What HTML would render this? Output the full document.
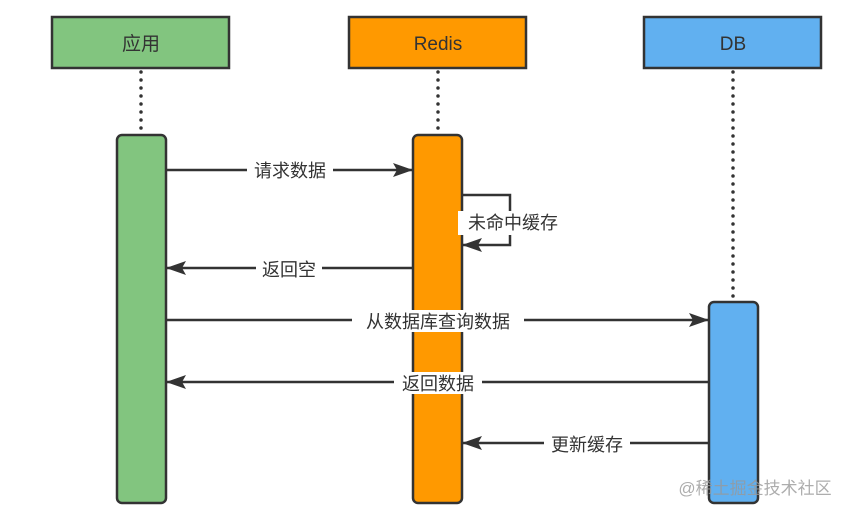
<!DOCTYPE html>
<html><head><meta charset="utf-8"><style>
body{margin:0;background:#fff;}
svg{display:block;font-family:"Liberation Sans","Noto Sans CJK SC",sans-serif;}
</style></head><body>
<svg width="852" height="513" viewBox="0 0 852 513">
<defs>
<marker id="a" markerWidth="20" markerHeight="14" refX="19" refY="7" orient="auto" markerUnits="userSpaceOnUse">
<path d="M0,0 L20,7 L0,14 L4,7 Z" fill="#333"/></marker>
</defs>
<g stroke="#333" stroke-width="3.5" stroke-dasharray="0,8" stroke-linecap="round">
<line x1="141" y1="72" x2="141" y2="130"/>
<line x1="438" y1="72" x2="438" y2="130"/>
<line x1="733" y1="72" x2="733" y2="298"/>
</g>
<g stroke="#333" stroke-width="2.5">
<rect x="52" y="17" width="177" height="51" fill="#82c57f"/>
<rect x="349" y="17" width="177" height="51" fill="#ff9900"/>
<rect x="644" y="17" width="177" height="51" fill="#61b0f0"/>
<rect x="117" y="135" width="49" height="368" rx="5" fill="#82c57f"/>
<rect x="413" y="135" width="49" height="368" rx="5" fill="#ff9900"/>
<rect x="709" y="302" width="49" height="201" rx="5" fill="#61b0f0"/>
</g>
<g font-size="19" fill="#333" text-anchor="middle">
<text x="141" y="50">应用</text>
<text x="438" y="50">Redis</text>
<text x="733" y="50">DB</text>
</g>
<g stroke="#333" stroke-width="2.5" fill="none">
<line x1="166" y1="170" x2="412" y2="170" marker-end="url(#a)"/>
<polyline points="462,195 510,195 510,245 463,245" marker-end="url(#a)"/>
<line x1="413" y1="268" x2="167" y2="268" marker-end="url(#a)"/>
<line x1="166" y1="320" x2="708" y2="320" marker-end="url(#a)"/>
<line x1="709" y1="382" x2="167" y2="382" marker-end="url(#a)"/>
<line x1="709" y1="443" x2="463" y2="443" marker-end="url(#a)"/>
</g>
<g fill="#fff">
<rect x="247" y="160" width="86" height="22"/>
<rect x="458" y="211" width="110" height="24"/>
<rect x="256" y="258" width="66" height="22"/>
<rect x="352" y="310" width="172" height="22"/>
<rect x="394" y="372" width="88" height="22"/>
<rect x="544" y="433" width="86" height="22"/>
</g>
<g font-size="18" fill="#333" text-anchor="middle">
<text x="290" y="177">请求数据</text>
<text x="513" y="229">未命中缓存</text>
<text x="289" y="276">返回空</text>
<text x="438" y="328">从数据库查询数据</text>
<text x="438" y="390">返回数据</text>
<text x="587" y="451">更新缓存</text>
</g>
<text x="755" y="494" font-size="17" fill="#999" text-anchor="middle" opacity="0.8">@稀土掘金技术社区</text>
</svg>
</body></html>
